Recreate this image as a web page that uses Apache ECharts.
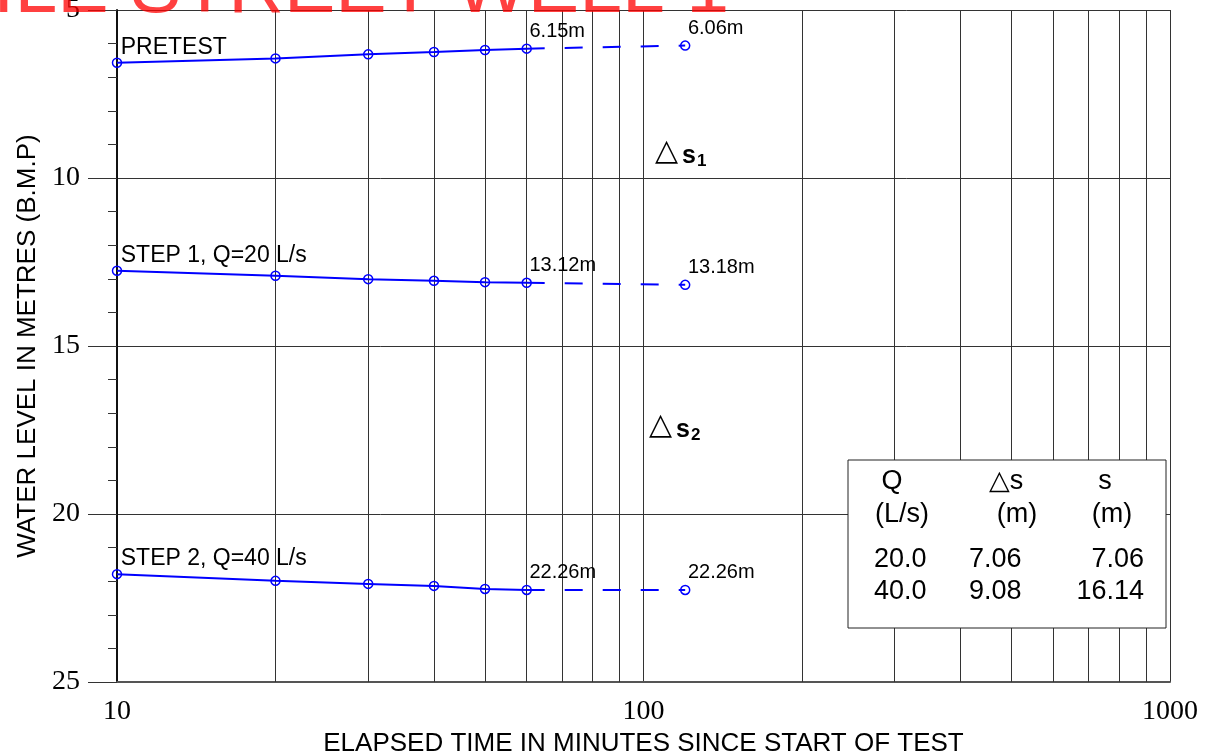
<!DOCTYPE html>
<html>
<head>
<meta charset="utf-8">
<script src="https://cdn.jsdelivr.net/npm/echarts@6/dist/echarts.min.js"></script>
<style>
html,body{margin:0;padding:0;background:#fff;}
#chart{width:1206px;height:756px;}
</style>
</head>
<body>
<div id="chart"></div>
<script>
// ---- data ----
const titleText = 'ILE STREET WELL 1';
const times = [10, 20, 30, 40, 50, 60];
const extTime = 120;
const pretest = [6.57, 6.44, 6.32, 6.25, 6.19, 6.15];
const pretestExt = 6.06;
const step1 = [12.76, 12.91, 13.01, 13.06, 13.10, 13.12];
const step1Ext = 13.18;
const step2 = [21.79, 21.99, 22.08, 22.14, 22.23, 22.26];
const step2Ext = 22.26;
const seriesNames = ['PRETEST', 'STEP 1, Q=20 L/s', 'STEP 2, Q=40 L/s'];
const minorGridTimes = [20, 30, 40, 50, 60, 70, 80, 90, 200, 300, 400, 500, 600, 700, 800, 900];
const xAxisTitle = 'ELAPSED TIME IN MINUTES SINCE START OF TEST';
const yAxisTitle = 'WATER LEVEL IN METRES (B.M.P)';
const tableHead1 = ['Q', '\u25B3s', 's'];
const tableHead2 = ['(L/s)', '(m)', '(m)'];
const tableRows = [['20.0', '7.06', '7.06'], ['40.0', '9.08', '16.14']];
const deltaLabels = ['1', '2'];

const BLUE = '#0000ff';
const SANS = '"Liberation Sans", Arial, sans-serif';
const SERIF = '"Liberation Serif", "Times New Roman", serif';

function fmt(v){ return v.toFixed(2) + 'm'; }

const nameLabel = {show:true, position:[9,-10], align:'left', verticalAlign:'middle',
  fontFamily:SANS, fontSize:23, color:'#000'};
const valLabel = {show:true, position:[8,-12], align:'left', verticalAlign:'middle',
  fontFamily:SANS, fontSize:20, color:'#000'};

function solidData(vals, name){
  return vals.map((v,i)=>{
    const item = {value:[times[i], v]};
    if(i===0) item.label = Object.assign({}, nameLabel, {formatter:name});
    if(i===vals.length-1) item.label = Object.assign({}, valLabel, {formatter:fmt(v)});
    return item;
  });
}
function extData(vals, ext){
  const last = vals[vals.length-1];
  return [
    {value:[times[times.length-1], last], symbolSize:0},
    {value:[extTime, ext], label:Object.assign({}, valLabel, {formatter:fmt(ext)})}
  ];
}
const markerStyle = {color:'rgba(0,0,0,0)', borderColor:BLUE, borderWidth:1.5};

const allSets = [[pretest, pretestExt], [step1, step1Ext], [step2, step2Ext]];
const series = [];
allSets.forEach((s, k)=>{
  series.push({
    type:'line', name:seriesNames[k], data:solidData(s[0], seriesNames[k]),
    symbol:'circle', symbolSize:9, itemStyle:markerStyle,
    lineStyle:{color:BLUE, width:2}, z:5,
    markLine: k===0 ? {
      silent:true, symbol:['none','none'], label:{show:false},
      lineStyle:{color:'#333', width:1, type:'solid'},
      data: minorGridTimes.map(t=>({xAxis:t})), z:1
    } : undefined
  });
  series.push({
    type:'line', data:extData(s[0], s[1]),
    symbol:'circle', symbolSize:9, itemStyle:markerStyle,
    lineStyle:{color:BLUE, width:2, type:[18,20]}, z:5
  });
});

const chart = echarts.init(document.getElementById('chart'), null, {renderer:'canvas'});

// table graphic
const tbl = [];
const boxX = 848, boxY = 460, boxW = 318, boxH = 168;
tbl.push({type:'rect', shape:{x:boxX, y:boxY, width:boxW, height:boxH},
  style:{fill:'#fff', stroke:'#222', lineWidth:1}, z:10});
const headX = [892, 1006, 1105];
const head2X = [902, 1017, 1112];
tableHead1.forEach((t,i)=>tbl.push({type:'text', x:headX[i], y:482, z:11,
  style:{text:t, font:'27px '+SANS, fill:'#000', align:'center', verticalAlign:'middle'}}));
tableHead2.forEach((t,i)=>tbl.push({type:'text', x:head2X[i], y:515, z:11,
  style:{text:t, font:'27px '+SANS, fill:'#000', align:'center', verticalAlign:'middle'}}));
tableRows.forEach((r,j)=>{
  const y = 560 + j*32;
  tbl.push({type:'text', x:874, y:y, z:11, style:{text:r[0], font:'27px '+SANS, fill:'#000', align:'left', verticalAlign:'middle'}});
  tbl.push({type:'text', x:969, y:y, z:11, style:{text:r[1], font:'27px '+SANS, fill:'#000', align:'left', verticalAlign:'middle'}});
  tbl.push({type:'text', x:1144, y:y, z:11, style:{text:r[2], font:'27px '+SANS, fill:'#000', align:'right', verticalAlign:'middle'}});
});

// delta s annotations
const deltaPos = [[655, 152], [649, 426]];
const deltaG = [];
deltaPos.forEach((p,i)=>{
  deltaG.push({type:'text', x:p[0], y:p[1], z:11, style:{text:'\u25B3', font:'30px "DejaVu Sans", sans-serif', fill:'#000', align:'left', verticalAlign:'middle'}});
  deltaG.push({type:'text', x:p[0]+27, y:p[1]+4, z:11, style:{text:'s', font:'bold 25px '+SANS, fill:'#000', align:'left', verticalAlign:'middle'}});
  deltaG.push({type:'text', x:p[0]+42, y:p[1]+9, z:11, style:{text:deltaLabels[i], font:'bold 17px '+SANS, fill:'#000', align:'left', verticalAlign:'middle'}});
});

const option = {
  animation:false,
  backgroundColor:'#fff',
  grid:{left:117, right:36, top:10, bottom:74, containLabel:false, outerBoundsMode:'none'},
  xAxis:{
    type:'log', logBase:10, min:10, max:1000,
    axisLine:{show:true, lineStyle:{color:'#555', width:2}},
    axisTick:{show:false},
    splitLine:{show:true, lineStyle:{color:'#333', width:1}},
    axisLabel:{fontFamily:SERIF, fontSize:28, color:'#000', margin:16, formatter:v=>String(v)},
    name:xAxisTitle, nameLocation:'middle', nameGap:37,
    nameTextStyle:{fontFamily:SANS, fontSize:26, color:'#000', verticalAlign:'top'}
  },
  yAxis:{
    type:'value', inverse:true, min:5, max:25, interval:5,
    axisLine:{show:true, onZero:false, lineStyle:{color:'#111', width:2}},
    axisTick:{show:true, length:29, lineStyle:{color:'#333', width:1}},
    minorTick:{show:true, splitNumber:5, length:9, lineStyle:{color:'#333', width:1}},
    splitLine:{show:true, lineStyle:{color:'#333', width:1}},
    axisLabel:{fontFamily:SERIF, fontSize:28, color:'#000', margin:37},
    name:yAxisTitle, nameLocation:'middle', nameGap:72,
    nameTextStyle:{fontFamily:SANS, fontSize:26, color:'#000'}
  },
  series:series,
  graphic:[
    {type:'text', x:-7, y:-9, z:20, style:{text:titleText, font:'77px '+SANS, fill:'rgba(255,0,0,0.75)', align:'left', verticalAlign:'middle'}}
  ].concat(tbl, deltaG)
};
chart.setOption(option);
</script>
</body>
</html>
